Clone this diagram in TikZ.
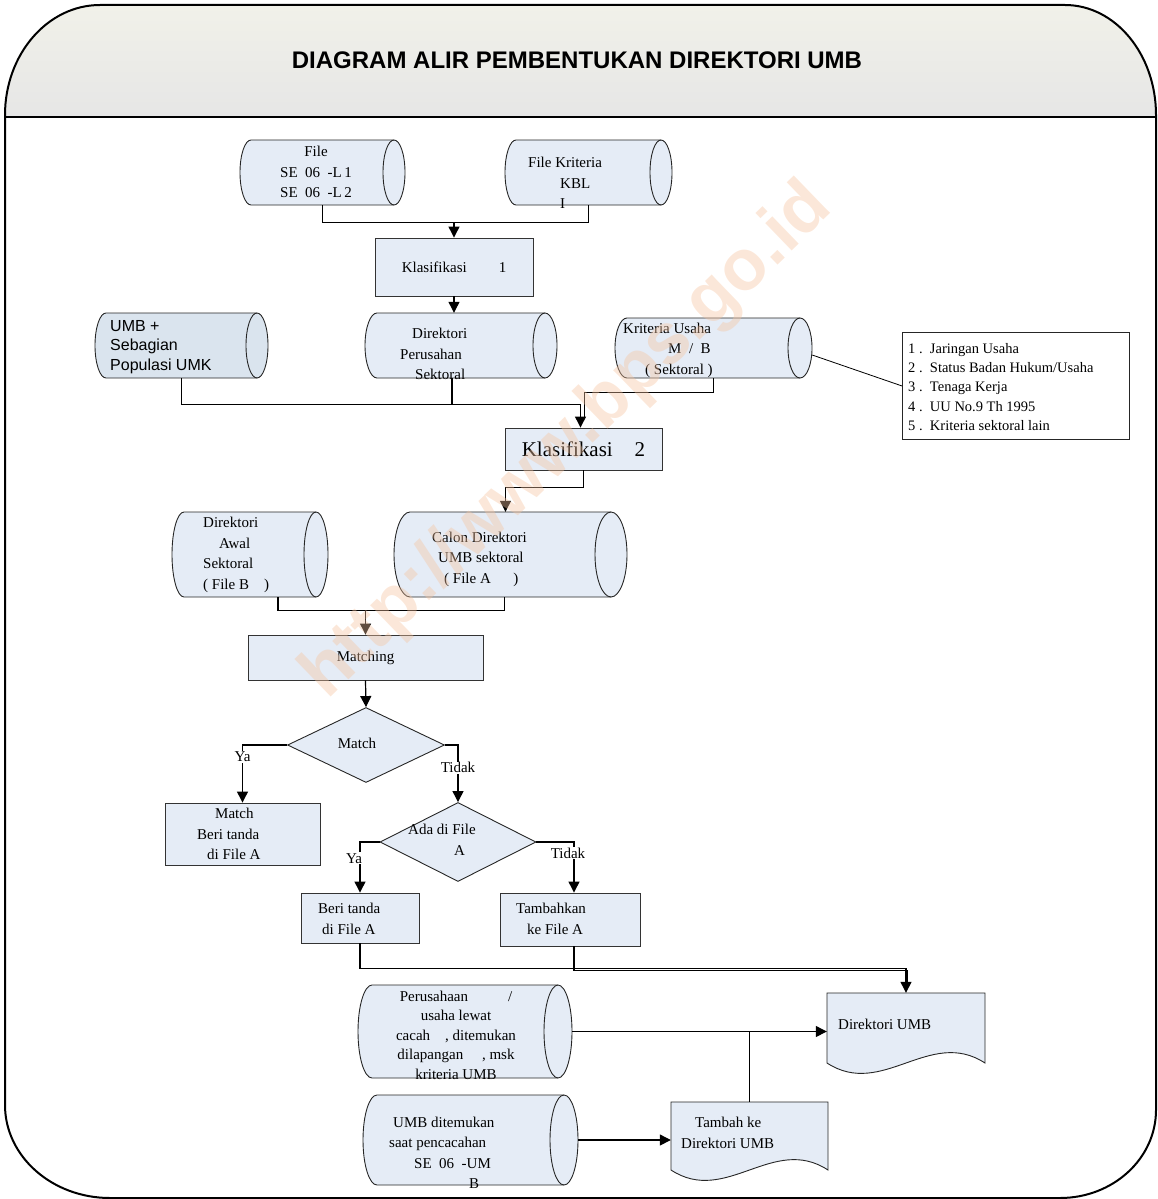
\documentclass[tikz,border=0pt]{standalone}
\usepackage{fontspec}
\setmainfont{Liberation Serif}
\newfontfamily\arialf{Liberation Sans}
\usetikzlibrary{arrows.meta,fit,shapes.geometric}
\definecolor{bfill}{RGB}{229,236,246}
\definecolor{bfilltwo}{RGB}{218,228,238}
\definecolor{ttop}{RGB}{241,241,233}
\definecolor{tbot}{RGB}{230,230,230}
\definecolor{wmark}{RGB}{246,196,160}
\tikzset{
  box/.style={draw=black!80, line width=0.9pt, fill=bfill, inner sep=0pt},
  stor/.style={draw=black!85, line width=0.9pt, fill=bfill},
  stortwo/.style={draw=black!85, line width=0.9pt, fill=bfilltwo},
  txt/.style={font=\fontsize{15}{20.5}\selectfont, align=center, inner sep=0pt},
  txtl/.style={font=\fontsize{15}{20.5}\selectfont, align=left, inner sep=0pt},
  conn/.style={line width=1.2pt, draw=black},
  arr/.style={conn, -{Triangle[length=11pt,width=11pt]}},
  lab/.style={font=\fontsize{15}{18}\selectfont, fill=white, inner sep=1pt},
}
% stored-data shape: #1 style, #2 name, #3 x1, #4 y1, #5 x2, #6 y2, #7 depth
\newcommand\storage[7][stor]{%
  \pgfmathsetmacro\hh{(#6-#4)/2}%
  \filldraw[#1] (#3+#7,#4) -- (#5-#7,#4)
     arc[start angle=90,end angle=-90,x radius=#7pt,y radius=\hh pt]
     -- (#3+#7,#6)
     arc[start angle=-90,end angle=-270,x radius=#7pt,y radius=\hh pt] -- cycle;
  \draw[#1,fill=none] (#5-#7,#4)
     arc[start angle=90,end angle=270,x radius=#7pt,y radius=\hh pt];
  \node[fit={(#3,#4) (#5,#6)}, inner sep=0pt] (#2) {};
}
% document shape: #1 name, #2 x1, #3 y1, #4 x2, #5 y side bottom
\newcommand\docshape[5]{%
  \filldraw[stor] (#2,#3) -- (#4,#3) -- (#4,#5)
     .. controls ({#2+0.65*(#4-#2)},{#5-36}) and ({#2+0.35*(#4-#2)},{#5+36}) ..
     (#2,#5) -- cycle;
  \node[fit={(#2,#3) (#4,#5)}, inner sep=0pt] (#1) {};
}
\begin{document}
\begin{tikzpicture}[x=1pt,y=-1pt]
\useasboundingbox (0,0) rectangle (1158,1199);
% ---------- frame ----------
\fill[top color=ttop, bottom color=tbot] (5,117) -- (5,115)
   arc[start angle=180,end angle=90,x radius=95pt,y radius=110pt]
   -- (1065,5)
   arc[start angle=90,end angle=0,x radius=91pt,y radius=110pt]
   -- (1156,117) -- cycle;
\draw[line width=2pt] (5,1105) -- (5,115)
   arc[start angle=180,end angle=90,x radius=95pt,y radius=110pt]
   -- (1065,5)
   arc[start angle=90,end angle=0,x radius=91pt,y radius=110pt]
   -- (1156,1110)
   arc[start angle=0,end angle=-90,x radius=96pt,y radius=88pt]
   -- (110,1198)
   arc[start angle=-90,end angle=-180,x radius=105pt,y radius=93pt] -- cycle;
\draw[line width=2.6pt] (5,117) -- (1156,117);
\node[font=\arialf\bfseries\fontsize{24}{27}\selectfont, inner sep=0pt] (title) at (577,60) {DIAGRAM ALIR PEMBENTUKAN DIREKTORI UMB};

% ---------- row 1 ----------
\storage{fse}{240}{140}{405}{205}{11}
\node[txt] (tfse) at (316,172) {File\\SE~~06~~-L\,1\\SE~~06~~-L\,2};
\storage{fkr}{505}{140}{672}{205}{11}
\node[txtl, anchor=west] (tfkr) at (528,183) {File Kriteria\\\hspace*{32pt}KBL\\\hspace*{32pt}I};
\node[box, txt, minimum width=158pt, minimum height=58pt] (k1) at (454,267) {Klasifikasi\hspace{32pt}1};
\coordinate (j1) at (454,222);
\draw[conn] (fse.south) -- ++(0,17) -| (fkr.south);
\draw[arr] (j1) -- (k1.north);

% ---------- row 2 ----------
\storage[stortwo]{umb}{95}{313}{268}{378}{11}
\node[font=\arialf\fontsize{16}{19.5}\selectfont, align=left, anchor=west, inner sep=0pt] (tumb) at (110,347) {UMB +\\Sebagian\\Populasi UMK};
\storage{dps}{365}{313}{557}{378}{12}
\node[txtl, anchor=west] (tdps) at (400,354) {\hspace*{12pt}Direktori\\Perusahan\\\hspace*{15pt}Sektoral};
\storage{kus}{615}{318}{812}{378}{12}
\node[txtl, anchor=west] (tkus) at (623,350) {Kriteria Usaha\\\hspace*{45pt}M~~/~~B\\\hspace*{22pt}( Sektoral )};
\draw[arr] (k1.south) -- (k1.south |- dps.north);

\node[draw=black!85, line width=0.8pt, fill=white, minimum width=227pt, minimum height=107pt] (lst) at (1016,386) {};
\node[font=\fontsize{14.5}{19.3}\selectfont, align=left, anchor=west, inner sep=0pt] (tlst) at (908,387)
  {1 .\ \ Jaringan Usaha\\2 .\ \ Status Badan Hukum/Usaha\\3 .\ \ Tenaga Kerja\\4 .\ \ UU No.9 Th 1995\\5 .\ \ Kriteria sektoral lain};
\draw[line width=0.8pt] ([yshift=-7pt]kus.east) -- (lst.west);

\node[box, font=\fontsize{21}{24}\selectfont, minimum width=157pt, minimum height=42pt] (k2) at (583.5,449) {Klasifikasi\hspace{22pt}2};
\draw[arr] (umb.south) -- ++(0,26) -| ([xshift=-3pt]k2.north);
\draw[conn] ([xshift=-9pt]dps.south) -- ++(0,26);
\draw[conn, shorten >=11pt] (kus.south) -- ++(0,14) -| ([xshift=1pt]k2.north);

% ---------- row 3 ----------
\storage{fb}{172}{512}{328}{597}{12}
\node[txtl, anchor=west] (tfb) at (203,555) {Direktori\\\hspace*{16pt}Awal\\Sektoral\\( File B~~~~)};
\storage{cal}{394}{512}{627}{597}{16}
\node[txtl, anchor=west] (tcal) at (432,559) {Calon Direktori\\\hspace*{6pt}UMB sektoral\\\hspace*{12pt}( File A~~~~~~)};
\draw[arr] (k2.south) -- ++(0,17) -| ([xshift=-5pt]cal.north);

\node[box, txt, minimum width=235pt, minimum height=45pt] (mt) at (365.5,657.5) {Matching};
\coordinate (j3) at (365.5,610);
\draw[conn] ([xshift=28pt]fb.south) -- ++(0,13) -| ([xshift=-6pt]cal.south);
\draw[arr] (j3) -- (mt.north);

% ---------- decisions ----------
\node[diamond, draw=black!85, line width=0.9pt, fill=bfill, minimum width=157pt, minimum height=75pt, inner sep=0pt] (m1) at (366,745) {};
\node[txt] (tm1) at (357,743) {Match};
\draw[arr] (mt.south) -- (m1.north);

\node[box, minimum width=155pt, minimum height=62pt] (mb) at (242.5,834) {};
\node[txtl, anchor=west] (tmb) at (197,834) {\hspace*{18pt}Match\\Beri tanda\\\hspace*{10pt}di File A};
\draw[arr] (m1.west) -| node[lab, pos=0.6] (lya1) {Ya} (mb.north);

\node[diamond, draw=black!85, line width=0.9pt, fill=bfill, minimum width=156pt, minimum height=79pt, inner sep=0pt] (m2) at (458,842) {};
\node[txtl, anchor=west] (tm2) at (408,840) {Ada di File\\\hspace*{46pt}A};
\draw[arr] (m1.east) -| node[lab, pos=0.7] (ltd1) {Tidak} (m2.north);

\node[box, minimum width=118pt, minimum height=50pt] (bt) at (360,918) {};
\node[txtl, anchor=west] (tbt) at (318,919) {Beri tanda\\\hspace*{4pt}di File A};
\node[box, minimum width=140pt, minimum height=53pt] (tk) at (570,919.5) {};
\node[txtl, anchor=west] (ttk) at (516,919) {Tambahkan\\\hspace*{11pt}ke File A};
\draw[arr] (m2.west) -| node[lab, pos=0.66, xshift=-6pt] (lya2) {Ya} (bt.north);
\draw[arr] (m2.east) -| node[lab, pos=0.61, xshift=-6pt] (ltd2) {Tidak} ([xshift=4pt]tk.north);

% ---------- bottom ----------
\docshape{du}{827}{993}{985}{1063}
\node[txtl, anchor=west] (tdu) at (838,1024) {Direktori UMB};
\draw[arr] (bt.south) -- ++(0,25) -| (du.north);
\draw[conn, shorten >=11pt] ([xshift=4pt]tk.south) -- ++(0,24) -| ([xshift=1.5pt]du.north);

\storage{per}{358}{985}{572}{1078}{14}
\node[font=\fontsize{15}{19.5}\selectfont, align=center, inner sep=0pt] (tper) at (456,1035)
  {Perusahaan\hspace*{40pt}/\\usaha lewat\\cacah~~~~, ditemukan\\dilapangan~~~~~, msk\\kriteria UMB};
\draw[arr] (per.east) -- (per.east -| du.west);

\docshape{ta}{671}{1102}{828}{1170}
\node[txtl, anchor=west] (tta) at (681,1133) {\hspace*{14pt}Tambah ke\\Direktori UMB};
\draw[conn] (ta.north) -- (ta.north |- per.east);

\storage{umbd}{363}{1095}{578}{1185}{14}
\node[txtl, anchor=west] (tumbd) at (389,1153) {\hspace*{4pt}UMB ditemukan\\saat pencacahan\\\hspace*{25pt}SE~~06~~-UM\\\hspace*{80pt}B};
\draw[arr] (umbd.east) -- (umbd.east -| ta.west);

% ---------- watermark ----------
\node[rotate=44, font=\arialf\bfseries\fontsize{72}{72}\selectfont, text=wmark, opacity=0.4, inner sep=0pt] (wm) at (568,442) {http://www.bps.go.id};
\end{tikzpicture}
\end{document}
